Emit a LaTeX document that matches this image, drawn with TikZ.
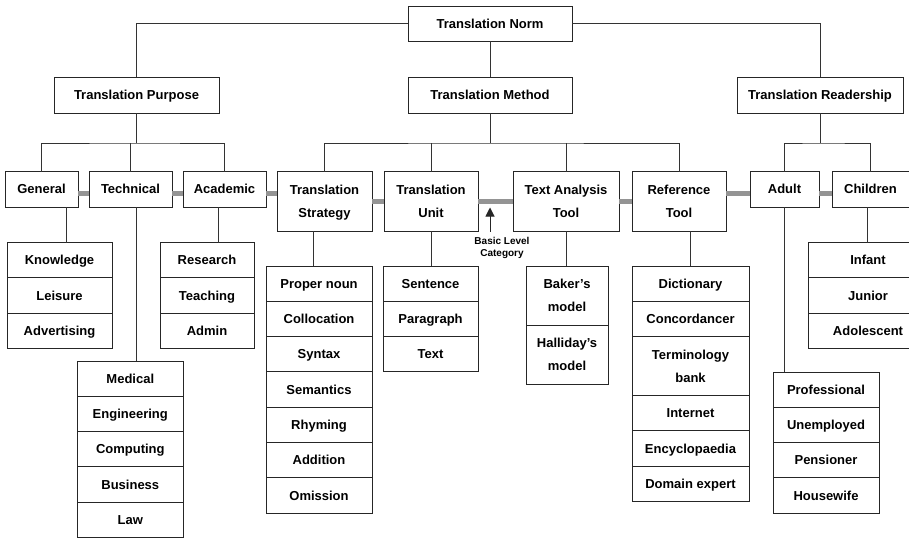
\documentclass[tikz,border=0pt]{standalone}
\usepackage{fontspec}
\setmainfont{Liberation Sans}
\usetikzlibrary{positioning,arrows.meta}
\begin{document}
\begin{tikzpicture}[x=1pt,y=-1pt,
  box/.style={draw=black!85, line width=0.9pt, fill=white, inner sep=0pt, outer sep=0pt, align=center, font=\fontsize{13}{23.5}\selectfont\bfseries},
  one/.style={box, minimum height=35.5, text height=9.3pt, text depth=0pt},
  two/.style={box, minimum height=59.5, text height=32.8pt, text depth=0pt},
  item/.style={box, minimum width=#1, minimum height=35.3, text height=9.3pt, text depth=0pt},
  itemtwo/.style={box, minimum width=#1, minimum height=59, text height=32.8pt, text depth=0pt},
  link/.style={draw=black!80, line width=0.8pt},
  band/.style={draw=black!42, line width=5pt},
]
\clip (0,0) rectangle (909,538);
\fill[white] (0,0) rectangle (909,538);

% level 0 and 1
\node[one, minimum width=164, minimum height=35] (norm) at (490,23.5) {Translation Norm};
\node[one, minimum width=165, minimum height=36] (purpose) at (136.5,95) {Translation Purpose};
\node[one, minimum width=164, minimum height=36] (method) at (490,95) {Translation Method};
\node[one, minimum width=166, minimum height=36] (reader) at (820,95) {Translation Readership};

% level 2
\node[one, minimum width=73] (gen) at (41.5,189.25) {General};
\node[one, minimum width=83] (tech) at (130.5,189.25) {Technical};
\node[one, minimum width=83] (acad) at (224.5,189.25) {Academic};
\node[two, minimum width=95] (strat) at (324.5,201.25) {Translation\\Strategy};
\node[two, minimum width=94] (unit) at (431,201.25) {Translation\\Unit};
\node[two, minimum width=106] (tat) at (566,201.25) {Text Analysis\\Tool};
\node[two, minimum width=94] (ref) at (679,201.25) {Reference\\Tool};
\node[one, minimum width=69] (adult) at (784.5,189.25) {Adult};
\node[one, minimum width=77] (child) at (870.5,189.25) {Children};

% lists
\node[item=105, anchor=north] (know) at (59.5,242.5) {Knowledge};
\node[item=105, below=0pt of know] (leis) {Leisure};
\node[item=105, below=0pt of leis] (adv) {Advertising};

\node[item=105.5, anchor=north] (med) at (130.3,361) {Medical};
\node[item=105.5, below=0pt of med] (eng) {Engineering};
\node[item=105.5, below=0pt of eng] (comp) {Computing};
\node[item=105.5, below=0pt of comp] (bus) {Business};
\node[item=105.5, below=0pt of bus] (law) {Law};

\node[item=94, anchor=north] (res) at (207,242.5) {Research};
\node[item=94, below=0pt of res] (teach) {Teaching};
\node[item=94, below=0pt of teach] (admin) {Admin};

\node[item=106, anchor=north] (pn) at (319,266) {Proper noun};
\node[item=106, below=0pt of pn] (coll) {Collocation};
\node[item=106, below=0pt of coll] (syn) {Syntax};
\node[item=106, below=0pt of syn] (sem) {Semantics};
\node[item=106, below=0pt of sem] (rhy) {Rhyming};
\node[item=106, below=0pt of rhy] (addi) {Addition};
\node[item=106, below=0pt of addi] (omi) {Omission};

\node[item=95, anchor=north] (sent) at (430.5,266) {Sentence};
\node[item=95, below=0pt of sent] (para) {Paragraph};
\node[item=95, below=0pt of para] (txt) {Text};

\node[itemtwo=82, anchor=north] (baker) at (567,266) {Baker’s\\model};
\node[itemtwo=82, below=0pt of baker] (halli) {Halliday’s\\model};

\node[item=117, anchor=north] (dict) at (690.5,266) {Dictionary};
\node[item=117, below=0pt of dict] (conc) {Concordancer};
\node[itemtwo=117, below=0pt of conc] (term) {Terminology\\bank};
\node[item=117, below=0pt of term] (inet) {Internet};
\node[item=117, below=0pt of inet] (ency) {Encyclopaedia};
\node[item=117, below=0pt of ency] (dom) {Domain expert};

\node[item=106, anchor=north] (prof) at (826,372) {Professional};
\node[item=106, below=0pt of prof] (unemp) {Unemployed};
\node[item=106, below=0pt of unemp] (pens) {Pensioner};
\node[item=106, below=0pt of pens] (house) {Housewife};

\node[item=120, anchor=north] (inf) at (868,242.5) {Infant};
\node[item=120, below=0pt of inf] (jun) {Junior};
\node[item=120, below=0pt of jun] (adol) {Adolescent};

% tree connectors
\coordinate (ph) at (136.5,143);
\coordinate (mh) at (490,143);
\coordinate (rh) at (820,143);
\draw[link] (norm.west) -| (purpose.north);
\draw[link] (norm.east) -| (reader.north);
\draw[link] (norm.south) -- (method.north);
\draw[link] (purpose.south) -- (ph);
\draw[link] (gen.north) |- (ph) -| (acad.north);
\draw[link] (tech.north) -- (tech.north |- ph);
\draw[link] (method.south) -- (mh);
\draw[link] (strat.north) |- (mh) -| (ref.north);
\draw[link] (unit.north) -- (unit.north |- mh);
\draw[link] (tat.north) -- (tat.north |- mh);
\draw[link] (reader.south) -- (rh);
\draw[link] (adult.north) |- (rh) -| (child.north);

% to lists
\draw[link] ([xshift=24.5pt]gen.south) -- ([xshift=24.5pt]gen.south |- know.north);
\draw[link] ([xshift=5.5pt]tech.south) -- ([xshift=5.5pt]tech.south |- med.north);
\draw[link] ([xshift=-5.8pt]acad.south) -- ([xshift=-5.8pt]acad.south |- res.north);
\draw[link] ([xshift=-11.5pt]strat.south) -- ([xshift=-11.5pt]strat.south |- pn.north);
\draw[link] (unit.south) -- (unit.south |- sent.north);
\draw[link] (tat.south) -- (tat.south |- baker.north);
\draw[link] ([xshift=11.7pt]ref.south) -- ([xshift=11.7pt]ref.south |- dict.north);
\draw[link] (adult.south) -- (adult.south |- prof.north);
\draw[link] ([xshift=-3.5pt]child.south) -- ([xshift=-3.5pt]child.south |- inf.north);

% basic level bands
\coordinate (b1) at (0,193);
\coordinate (b2) at (0,201.5);
\draw[band] (gen.east |- b1) -- (tech.west |- b1);
\draw[band] (tech.east |- b1) -- (acad.west |- b1);
\draw[band] (acad.east |- b1) -- (strat.west |- b1);
\draw[band] (strat.east |- b2) -- (unit.west |- b2);
\draw[band] (unit.east |- b2) -- (tat.west |- b2);
\draw[band] (tat.east |- b2) -- (ref.west |- b2);
\draw[band] (ref.east |- b1) -- (adult.west |- b1);
\draw[band] (adult.east |- b1) -- (child.west |- b1);

% basic level label and arrow
\node[inner sep=0pt, align=center, font=\fontsize{10}{12.5}\selectfont\bfseries] (blc) at (502,248) {Basic Level\\Category};
\coordinate (atip) at (490,207.5);
\coordinate (abase) at (490,231.5);
\draw[line width=1pt, black!85, -{Triangle[length=9pt,width=9pt]}] (abase) -- (atip);
\end{tikzpicture}
\end{document}
